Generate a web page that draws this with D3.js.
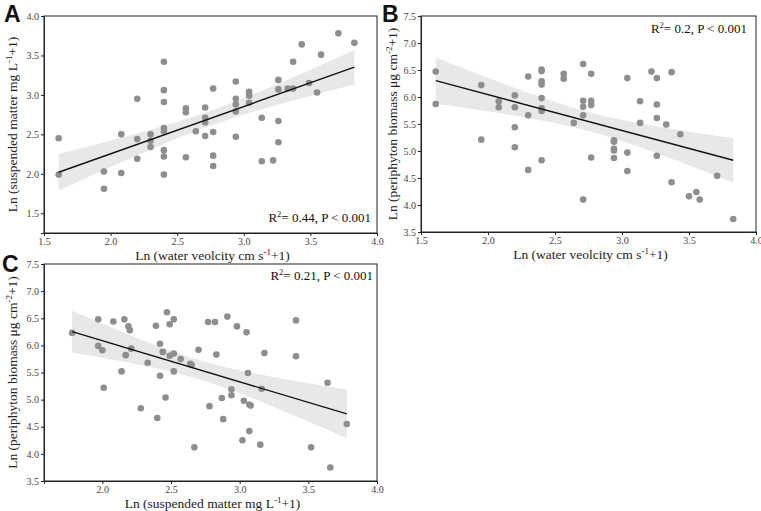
<!DOCTYPE html>
<html>
<head>
<meta charset="utf-8">
<script src="https://cdn.jsdelivr.net/npm/d3@7"></script>
<style>
  body { margin: 0; background: #fff; }
  svg { display: block; }
</style>
</head>
<body>
<svg id="fig" width="761" height="511"></svg>
<script>
// Panel A: water velocity vs suspended matter
const velA = [1.61,1.61,1.95,1.95,2.08,2.08,2.20,2.20,2.20,2.30,2.30,2.30,
  2.40,2.40,2.40,2.40,2.40,2.40,2.40,2.40,2.565,2.565,2.565,2.64,2.71,2.71,2.71,2.71,
  2.77,2.77,2.77,2.77,2.94,2.94,2.94,2.94,2.94,3.04,3.04,3.04,3.135,3.135,3.22,
  3.26,3.26,3.26,3.26,3.33,3.37,3.37,3.435,3.49,3.55,3.58,3.71,3.83];
const smA = [2.45,1.99,2.03,1.81,2.50,2.01,2.95,2.44,2.19,2.50,2.42,2.34,
  3.42,3.06,2.91,2.58,2.54,2.30,2.22,1.99,2.83,2.78,2.21,2.54,2.84,2.71,2.65,2.48,
  3.08,2.53,2.23,2.10,3.17,2.95,2.88,2.79,2.47,3.04,2.99,2.90,2.71,2.16,2.17,
  3.19,3.07,2.67,2.40,3.08,3.08,3.42,3.64,3.15,3.03,3.51,3.78,3.66];

// Panel B: water velocity vs periphyton biomass
const velB = [1.61,1.61,1.95,1.95,2.08,2.08,2.20,2.20,2.20,2.20,2.30,2.30,2.30,
  2.40,2.40,2.40,2.40,2.40,2.40,2.40,2.40,2.565,2.565,2.64,2.71,2.71,2.71,2.71,2.71,
  2.77,2.77,2.77,2.77,2.94,2.94,2.94,2.94,2.94,3.04,3.04,3.04,3.135,3.135,3.22,
  3.26,3.26,3.26,3.26,3.33,3.37,3.37,3.435,3.50,3.555,3.58,3.71,3.83];
const pbB = [6.47,5.87,6.22,5.21,5.92,5.81,6.03,5.81,5.44,5.07,6.38,5.66,4.65,
  6.51,6.48,6.29,6.23,5.98,5.79,5.74,4.83,6.43,6.34,5.52,6.61,5.93,5.82,5.66,4.10,
  6.43,5.93,5.85,4.88,5.20,5.17,5.04,5.01,4.87,6.35,4.97,4.63,5.92,5.52,6.47,
  6.35,5.86,5.61,4.91,5.49,6.46,4.42,5.31,4.16,4.24,4.10,4.54,3.74];

// Panel C: suspended matter vs periphyton biomass
const smC = [1.78,1.97,1.97,2.00,2.01,2.08,2.16,2.14,2.17,2.19,2.20,2.21,2.28,2.33,
  2.39,2.40,2.42,2.42,2.44,2.46,2.47,2.49,2.49,2.52,2.52,2.52,2.57,2.64,2.65,2.67,2.70,
  2.77,2.78,2.82,2.83,2.87,2.88,2.91,2.94,2.94,2.98,3.02,3.03,3.05,3.06,3.07,3.08,3.07,
  3.15,3.16,3.18,3.41,3.41,3.52,3.64,3.66,3.78];
const pbC = [6.23,6.48,5.99,5.91,5.22,6.44,6.48,5.52,5.82,6.35,6.28,5.94,4.84,5.68,
  6.36,4.66,5.44,6.03,5.88,5.04,6.61,6.39,5.81,5.85,6.48,5.52,5.75,5.66,5.64,4.12,5.92,
  6.43,4.88,6.43,5.83,5.03,4.64,6.53,5.08,5.19,6.35,4.25,4.98,6.24,5.49,4.91,4.89,4.42,
  4.17,5.20,5.86,6.46,5.80,4.12,5.31,3.75,4.55];

const ticks25 = [1.5, 2.0, 2.5, 3.0, 3.5, 4.0];
const ticksC = [2.0, 2.5, 3.0, 3.5, 4.0];
const ticksPb = [3.5, 4.0, 4.5, 5.0, 5.5, 6.0, 6.5, 7.0, 7.5];

const panels = [
  { letter: "A", xs: velA, ys: smA, xDom: [1.5, 4.0], yDom: [1.25, 4.0],
    xTicks: ticks25, yTicks: ticks25,
    box: { l: 44, r: 377, t: 16, b: 233 }, letterPos: [4, 22], yLabOff: 27,
    xLab: ["Ln (water veolcity cm s", "-1", "+1)"],
    yLab: ["Ln (suspended matter mg L", "-1", "+1)"],
    stat: "0.44, P < 0.001", statX: 6, statY: 222 },
  { letter: "B", xs: velB, ys: pbB, xDom: [1.5, 4.0], yDom: [3.5, 7.5],
    xTicks: ticks25, yTicks: ticksPb,
    box: { l: 421, r: 756, t: 16, b: 232 }, letterPos: [382, 22], yLabOff: 24,
    xLab: ["Ln (water veolcity cm s", "-1", "+1)"],
    yLab: ["Ln (periphyton biomass μg cm", "-2", "+1)"],
    stat: "0.2, P < 0.001", statX: 9, statY: 33 },
  { letter: "C", xs: smC, ys: pbC, xDom: [1.575, 4.0], yDom: [3.5, 7.5],
    xTicks: ticksC, yTicks: ticksPb,
    box: { l: 44, r: 377, t: 264, b: 481 }, letterPos: [2, 272], yLabOff: 27,
    xLab: ["Ln (suspended matter mg L", "-1", "+1)"],
    yLab: ["Ln (periphyton biomass μg cm", "-2", "+1)"],
    stat: "0.21, P < 0.001", statX: 4, statY: 280 }
];

const svg = d3.select("#fig");
const serif = "'Liberation Serif', 'Times New Roman', serif";
const fmt = d3.format(".1f");

// least squares fit plus 95% confidence band of the mean
function fit(xs, ys) {
  const n = xs.length;
  const mx = d3.mean(xs), my = d3.mean(ys);
  let sxx = 0, sxy = 0;
  xs.forEach((x, i) => { sxx += (x - mx) ** 2; sxy += (x - mx) * (ys[i] - my); });
  const slope = sxy / sxx;
  const icpt = my - slope * mx;
  let sse = 0;
  xs.forEach((x, i) => { sse += (ys[i] - icpt - slope * x) ** 2; });
  const s = Math.sqrt(sse / (n - 2));
  const t = 2.004;
  const lo = d3.min(xs), hi = d3.max(xs);
  const band = d3.range(0, 61).map(k => {
    const x = lo + (hi - lo) * k / 60;
    const yh = icpt + slope * x;
    const se = s * Math.sqrt(1 / n + (x - mx) ** 2 / sxx);
    return { x, y0: yh - t * se, y1: yh + t * se };
  });
  return { slope, icpt, lo, hi, band };
}

function addLabel(sel, parts, supSize) {
  sel.append("tspan").text(parts[0]);
  sel.append("tspan").attr("dy", -5).attr("font-size", supSize).text(parts[1]);
  sel.append("tspan").attr("dy", 5).text(parts[2]);
}

panels.forEach(p => {
  const { l, r, t, b } = p.box;
  const x = d3.scaleLinear().domain(p.xDom).range([l, r]);
  const y = d3.scaleLinear().domain(p.yDom).range([b, t]);
  const g = svg.append("g");

  const f = fit(p.xs, p.ys);

  g.append("path")
    .datum(f.band)
    .attr("fill", "#e8e8e8")
    .attr("d", d3.area().x(d => x(d.x)).y0(d => y(d.y0)).y1(d => y(d.y1)));

  g.selectAll("circle")
    .data(p.xs.map((v, i) => [v, p.ys[i]]))
    .join("circle")
    .attr("cx", d => x(d[0]))
    .attr("cy", d => y(d[1]))
    .attr("r", 3.3)
    .attr("fill", "#8e8e8e");

  g.append("line")
    .attr("x1", x(f.lo)).attr("y1", y(f.icpt + f.slope * f.lo))
    .attr("x2", x(f.hi)).attr("y2", y(f.icpt + f.slope * f.hi))
    .attr("stroke", "#111").attr("stroke-width", 1.4);

  // frame
  g.append("rect")
    .attr("x", l).attr("y", t).attr("width", r - l).attr("height", b - t)
    .attr("fill", "none").attr("stroke", "#222").attr("stroke-width", 1);

  const xa = g.append("g").attr("transform", `translate(0,${b})`)
    .call(d3.axisBottom(x).tickValues(p.xTicks).tickFormat(fmt).tickSize(3).tickPadding(2));
  const ya = g.append("g").attr("transform", `translate(${l},0)`)
    .call(d3.axisLeft(y).tickValues(p.yTicks).tickFormat(fmt).tickSize(3).tickPadding(2));
  [xa, ya].forEach(a => {
    a.select(".domain").attr("stroke", "#222");
    a.selectAll(".tick line").attr("stroke", "#222");
    a.selectAll("text").attr("font-family", serif).attr("font-size", 10).attr("fill", "#444");
  });

  // axis titles
  const xt = g.append("text")
    .attr("x", (l + r) / 2 + 2).attr("y", b + 27)
    .attr("text-anchor", "middle")
    .attr("font-family", serif).attr("font-size", 13.5).attr("fill", "#222");
  addLabel(xt, p.xLab, 9);

  const yt = g.append("text")
    .attr("transform", `translate(${l - p.yLabOff},${(t + b) / 2}) rotate(-90)`)
    .attr("text-anchor", "middle")
    .attr("font-family", serif).attr("font-size", 13.5).attr("fill", "#222");
  addLabel(yt, p.yLab, 9);

  // R2 annotation
  const st = g.append("text")
    .attr("x", r - p.statX)
    .attr("y", p.statY)
    .attr("text-anchor", "end")
    .attr("font-family", serif).attr("font-size", 13).attr("fill", "#111");
  st.append("tspan").text("R");
  st.append("tspan").attr("dy", -5).attr("font-size", 8.5).text("2");
  st.append("tspan").attr("dy", 5).text("= " + p.stat);

  svg.append("text")
    .attr("x", p.letterPos[0]).attr("y", p.letterPos[1])
    .attr("font-family", "'Liberation Sans', Arial, sans-serif")
    .attr("font-weight", "bold").attr("font-size", 23).attr("fill", "#111")
    .text(p.letter);
});
</script>
</body>
</html>
